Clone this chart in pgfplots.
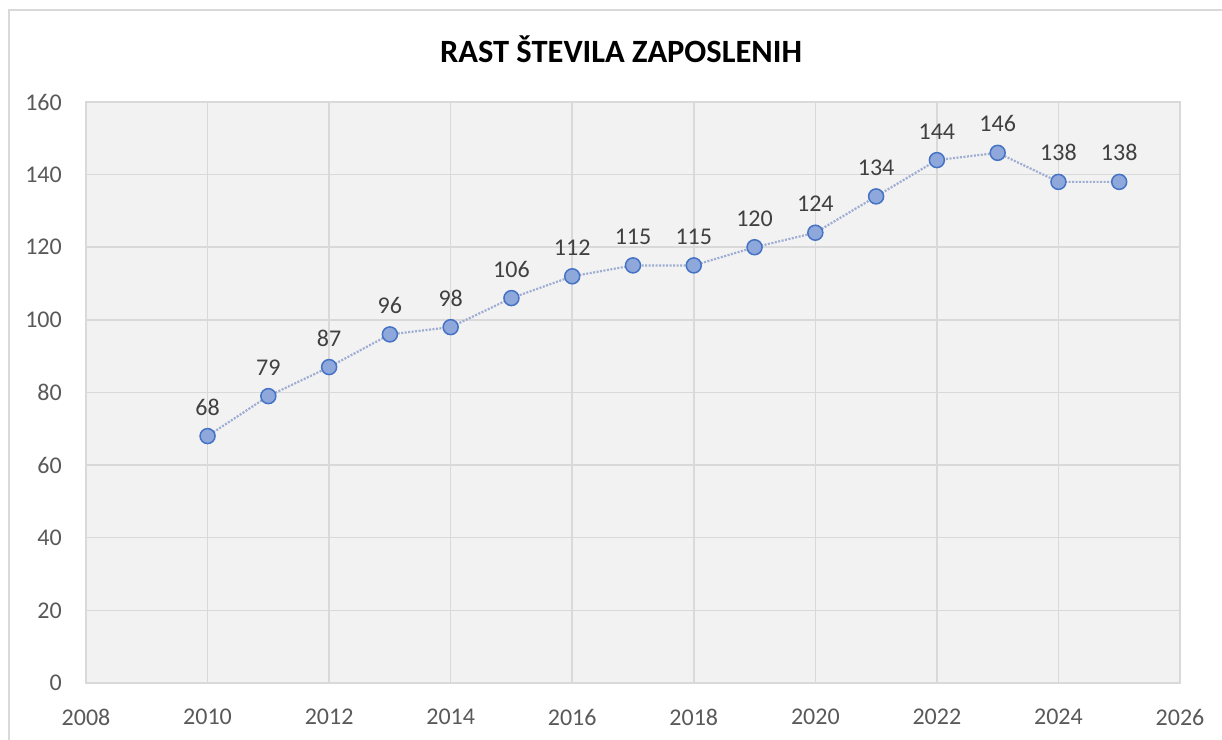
\documentclass[border=0pt]{standalone}
\usepackage{pgfplots}
\pgfplotsset{compat=1.18}
\usepackage{fontspec}
\setmainfont{Carlito}
\definecolor{bgc}{HTML}{F2F2F2}
\definecolor{gridc}{HTML}{D9D9D9}
\definecolor{tickc}{HTML}{595959}
\definecolor{labc}{HTML}{404040}
\definecolor{linec}{HTML}{9FADD3}
\definecolor{mfill}{HTML}{8FA8DC}
\definecolor{medge}{HTML}{4472C4}
\definecolor{framec}{HTML}{D9D9D9}
\begin{document}
\begin{tikzpicture}
\begin{axis}[
  at={(0,0)}, anchor=south west,
  scale only axis, width=1094bp, height=581bp,
  xmin=2008, xmax=2026, ymin=0, ymax=160,
  xtick={2008,2010,...,2026}, ytick={0,20,...,160},
  /pgf/number format/assume math mode=true,
  /pgf/number format/1000 sep={},
  major tick length=0pt,
  grid=major,
  major grid style={draw=gridc, line width=1.5bp},
  axis line style={draw=gridc, line width=1.5bp},
  axis background/.style={fill=bgc},
  tick label style={font=\fontsize{24bp}{27bp}\selectfont, text=tickc, inner sep=0pt},
  xticklabel style={anchor=north, yshift=-26bp},
  yticklabel style={anchor=east, xshift=-24bp},
  title={\textbf{RAST ŠTEVILA ZAPOSLENIH}},
  title style={at={(rel axis cs:0.5,1)}, anchor=base, yshift=34bp, xshift=-12bp,
    font=\fontsize{32.5bp}{36bp}\selectfont, inner sep=0pt},
  nodes near coords,
  every node near coord/.append style={font=\fontsize{24bp}{27bp}\selectfont, text=labc, inner sep=0pt, anchor=south, yshift=20bp},
  clip=false,
]
\addplot[color=linec, line width=2.2bp, dash pattern=on 2bp off 1.5bp,
  mark=*, mark size=7.5bp, mark options={solid, fill=mfill, draw=medge, line width=1.5bp}]
  coordinates {
  (2010,68) (2011,79) (2012,87) (2013,96) (2014,98) (2015,106) (2016,112) (2017,115)
  (2018,115) (2019,120) (2020,124) (2021,134) (2022,144) (2023,146) (2024,138) (2025,138)
  };
\end{axis}
\draw[framec, line width=1.5bp] (-77bp,-60bp) -- (-77bp,673bp) -- (1140bp,673bp);
\pgfresetboundingbox
\path[use as bounding box] (-86bp,-57bp) rectangle (1136bp,683bp);
\end{tikzpicture}
\end{document}
